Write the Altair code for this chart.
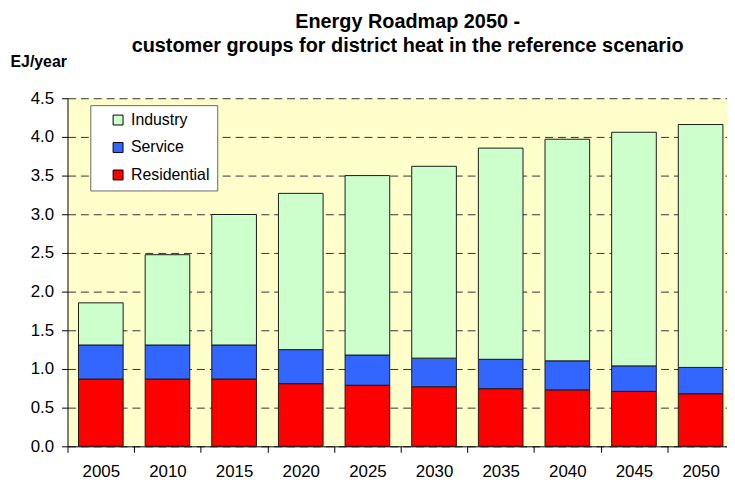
import altair as alt
import pandas as pd

years = ["2005", "2010", "2015", "2020", "2025", "2030", "2035", "2040", "2045", "2050"]
residential = [0.87, 0.87, 0.87, 0.81, 0.79, 0.77, 0.745, 0.73, 0.71, 0.68]
service = [0.44, 0.44, 0.44, 0.44, 0.39, 0.37, 0.38, 0.375, 0.33, 0.34]
industry = [0.545, 1.167, 1.687, 2.02, 2.32, 2.48, 2.73, 2.865, 3.02, 3.14]

series = ["Industry", "Service", "Residential"]
colors = ["#CCFFCC", "#3366FF", "#FF0000"]
stack_order = {"Residential": 0, "Service": 1, "Industry": 2}

rows = []
for i, y in enumerate(years):
    for name, vals in (("Residential", residential), ("Service", service), ("Industry", industry)):
        rows.append({"year": y, "group": name, "value": vals[i], "ord": stack_order[name]})
df = pd.DataFrame(rows)

FONT = "Liberation Sans"

chart = alt.Chart(df).mark_bar(
    width=alt.RelativeBandSize(0.67), stroke="#1a1a1a", strokeWidth=1
).encode(
    x=alt.X("year:N", sort=years, title=None,
            scale=alt.Scale(paddingInner=0, paddingOuter=0),
            axis=alt.Axis(labelAngle=0, tickBand="extent", tickSize=6, tickColor="#000",
                          domainColor="#000", labelFontSize=17, labelFont=FONT,
                          labelColor="#000", labelPadding=11)),
    y=alt.Y("value:Q", stack="zero", title="EJ/year",
            scale=alt.Scale(domain=[0, 4.5], nice=False),
            axis=alt.Axis(values=[0, 0.5, 1, 1.5, 2, 2.5, 3, 3.5, 4, 4.5], format=".1f",
                          tickSize=6, tickColor="#000", domainColor="#000",
                          labelFontSize=17, labelFont=FONT, labelColor="#000", labelPadding=8,
                          grid=True, gridColor="#333", gridDash=[8, 5], gridWidth=1,
                          titleAngle=0, titleAlign="left", titleBaseline="middle",
                          titleX=-58, titleY=-37, titleFont=FONT, titleFontSize=16,
                          titleFontWeight="bold", titleColor="#000")),
    color=alt.Color("group:N", sort=series,
                    scale=alt.Scale(domain=series, range=colors),
                    legend=alt.Legend(title=None, orient="none", legendX=23, legendY=7,
                                      fillColor="#FFFFFF", strokeColor="#666666",
                                      padding=7, symbolType="square", symbolSize=100,
                                      symbolStrokeColor="#000", symbolStrokeWidth=1,
                                      symbolOffset=13, labelFontSize=16, labelFont=FONT,
                                      labelColor="#000", rowPadding=11.7, labelOffset=5,
                                      labelExpr="datum.label + '    '")),
    order=alt.Order("ord:Q", sort="ascending"),
).properties(
    width=672,
    height=351,
    background="#FFFFFF",
    autosize=alt.AutoSizeParams(type="none"),
    padding={"left": 60, "top": 89, "right": -7, "bottom": 35},
    title=alt.TitleParams(
        ["Energy Roadmap 2050 -", "customer groups for district heat in the reference scenario"],
        font=FONT, fontSize=20, fontWeight="bold", color="#000", anchor="middle",
        frame="group", dx=7, offset=-2, lineHeight=24),
).configure_view(fill="#FFFFCC", stroke=None)

chart.save("out.html", embed_options={"renderer": "svg", "actions": False})
